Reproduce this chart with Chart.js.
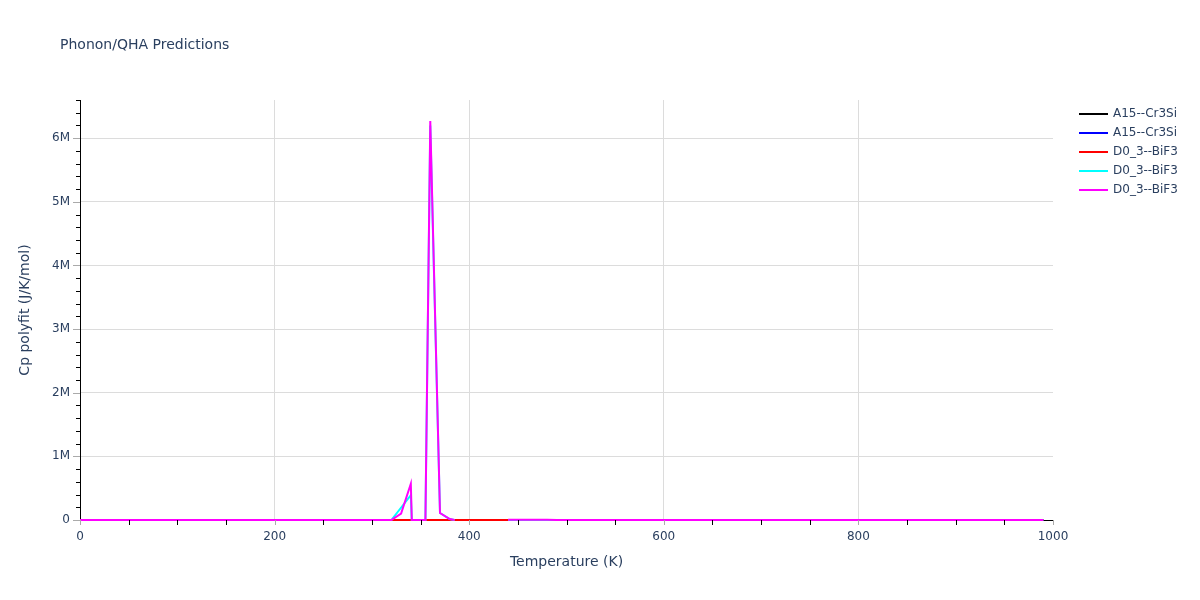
<!DOCTYPE html>
<html>
<head>
<meta charset="utf-8">
<script src="https://cdn.jsdelivr.net/npm/chart.js@4"></script>
<style>
  body { margin: 0; background: #fff; }
  canvas { display: block; }
</style>
</head>
<body>
<canvas id="cpChart" width="1200" height="600"></canvas>
<script>
// data (temperatures in K, Cp in J/K/mol)
const seriesNames = ['A15--Cr3Si', 'A15--Cr3Si', 'D0_3--BiF3', 'D0_3--BiF3', 'D0_3--BiF3'];
const seriesColors = ['#000000', '#0000ff', '#ff0000', '#00ffff', '#ff00ff'];

const tempBlack = [0, 990];
const cpBlack = [0, 0];

const tempBlue = [0, 990];
const cpBlue = [0, 0];

const tempRed = [0, 990];
const cpRed = [0, 0];

const tempCyan = [0, 320, 340, 341, 355, 360, 370, 380, 385, 400, 440, 990];
const cpCyan = [0, 0, 390000, 0, 0, 6200000, 110000, 15000, 0, null, 0, 0];

const tempMagenta = [0, 320, 330, 340, 341, 355, 360, 370, 380, 385, 400, 440, 450, 460, 470, 480, 490, 990];
const cpMagenta = [0, 0, 100000, 570000, 0, 0, 6270000, 110000, 15000, 0, null, 5000, 5000, 5000, 5000, 5000, 0, 0];

const xTicks = [0, 200, 400, 600, 800, 1000];
const xTickLabels = ['0', '200', '400', '600', '800', '1000'];
const yTicks = [0, 1000000, 2000000, 3000000, 4000000, 5000000, 6000000];
const yTickLabels = ['0', '1M', '2M', '3M', '4M', '5M', '6M'];

const textColor = '#2a3f5f';
const gridColor = '#dcdcdc';
const font = '"DejaVu Sans", Verdana, sans-serif';

function toPoints(xs, ys) {
    return xs.map((x, i) => ({ x: x, y: ys[i] }));
}

const allTemps = [tempBlack, tempBlue, tempRed, tempCyan, tempMagenta];
const allCp = [cpBlack, cpBlue, cpRed, cpCyan, cpMagenta];

const datasets = seriesNames.map((name, i) => ({
    label: name,
    data: toPoints(allTemps[i], allCp[i]),
    borderColor: seriesColors[i],
    backgroundColor: seriesColors[i],
    borderWidth: 2,
    pointRadius: 0,
    tension: 0,
    spanGaps: false,
    clip: false,
    order: seriesNames.length - i   // last series on top
}));

// title, legend and minor ticks like the original plot
const extrasPlugin = {
    id: 'extras',
    afterDraw(chart) {
        const ctx = chart.ctx;
        const area = chart.chartArea;
        const xs = chart.scales.x;
        const ys = chart.scales.y;
        ctx.save();

        // title
        ctx.fillStyle = textColor;
        ctx.font = '14px ' + font;
        ctx.textBaseline = 'middle';
        ctx.textAlign = 'left';
        ctx.fillText('Phonon/QHA Predictions', 60, 45);

        // x ticks
        for (let t = 0; t <= 1000; t += 50) {
            const px = Math.round(xs.getPixelForValue(t)) + 0.5;
            const major = t % 200 === 0;
            ctx.strokeStyle = major ? '#aaaaaa' : '#000000';
            ctx.lineWidth = 1;
            ctx.beginPath();
            ctx.moveTo(px, area.bottom);
            ctx.lineTo(px, area.bottom + 5);
            ctx.stroke();
        }
        // y ticks
        for (let v = 0; v <= 6600000; v += 200000) {
            const py = Math.round(ys.getPixelForValue(v)) + 0.5;
            const major = v % 1000000 === 0;
            ctx.strokeStyle = major ? '#aaaaaa' : '#000000';
            ctx.beginPath();
            ctx.moveTo(area.left, py);
            ctx.lineTo(area.left - (major ? 7 : 4), py);
            ctx.stroke();
        }

        // legend
        ctx.font = '12px ' + font;
        seriesNames.forEach((name, i) => {
            const y = 114 + i * 19;
            ctx.strokeStyle = seriesColors[i];
            ctx.lineWidth = 2;
            ctx.beginPath();
            ctx.moveTo(1079, y);
            ctx.lineTo(1108, y);
            ctx.stroke();
            ctx.fillStyle = textColor;
            ctx.fillText(name, 1113, y);
        });
        ctx.restore();
    }
};

new Chart(document.getElementById('cpChart'), {
    type: 'line',
    data: { datasets: datasets },
    options: {
        responsive: false,
        animation: false,
        devicePixelRatio: 1,
        layout: { padding: { top: 100, right: 147, bottom: 0, left: 0 } },
        plugins: {
            legend: { display: false },
            title: { display: false },
            tooltip: { enabled: false }
        },
        scales: {
            x: {
                type: 'linear',
                min: 0,
                max: 1000,
                afterBuildTicks: (scale) => { scale.ticks = xTicks.map(v => ({ value: v })); },
                afterFit: (scale) => { scale.height = 80; },
                ticks: {
                    color: textColor,
                    font: { family: font, size: 12 },
                    padding: 10,
                    maxRotation: 0,
                    callback: (value) => {
                        const idx = xTicks.indexOf(value);
                        return idx >= 0 ? xTickLabels[idx] : '';
                    }
                },
                grid: {
                    drawTicks: false,
                    color: (c) => (c.tick && (c.tick.value === 0 || c.tick.value === 1000)) ? 'rgba(0,0,0,0)' : gridColor
                },
                border: { color: '#000000', width: 1 },
                title: {
                    display: true,
                    text: 'Temperature (K)',
                    color: textColor,
                    font: { family: font, size: 14 },
                    padding: { top: 0, bottom: 29 }
                }
            },
            y: {
                type: 'linear',
                min: 0,
                max: 6600000,
                afterBuildTicks: (scale) => { scale.ticks = yTicks.map(v => ({ value: v })); },
                afterFit: (scale) => { scale.width = 80; },
                ticks: {
                    color: textColor,
                    font: { family: font, size: 12 },
                    padding: 10,
                    callback: (value) => {
                        const idx = yTicks.indexOf(value);
                        return idx >= 0 ? yTickLabels[idx] : '';
                    }
                },
                grid: {
                    drawTicks: false,
                    color: (c) => (c.tick && c.tick.value === 0) ? 'rgba(0,0,0,0)' : gridColor
                },
                border: { color: '#000000', width: 1 },
                title: {
                    display: true,
                    text: 'Cp polyfit (J/K/mol)',
                    color: textColor,
                    font: { family: font, size: 14 },
                    padding: { top: 17, bottom: 0 }
                }
            }
        }
    },
    plugins: [extrasPlugin]
});
</script>
</body>
</html>
